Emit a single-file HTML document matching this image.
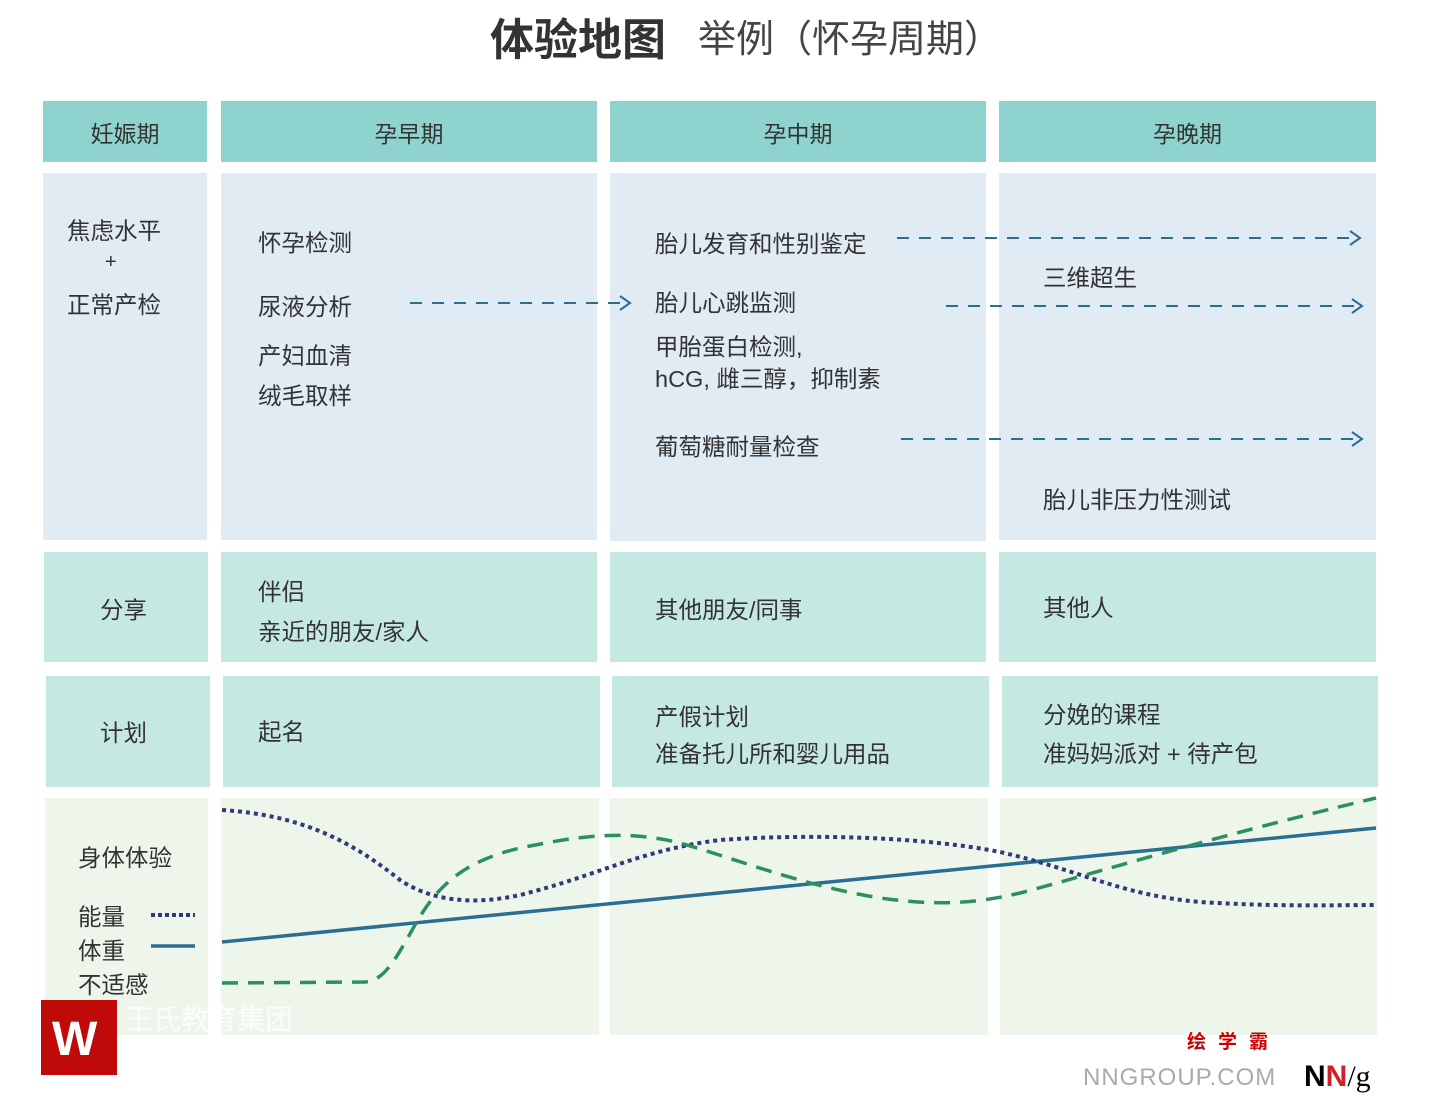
<!DOCTYPE html>
<html><head><meta charset="utf-8"><style>
body{margin:0;width:1437px;height:1104px;background:#fff;position:relative;overflow:hidden;font-family:"Liberation Sans","Noto Sans CJK SC",sans-serif;color:#333}
.b{position:absolute}
.h{background:#8fd3cf;display:flex;align-items:center;justify-content:center;font-size:23px;color:#333}
.r1{background:#e0ebf4}
.r2{background:#c6e8e3}
.r4{background:#eef6ec}
.t{position:absolute;font-size:23.5px;color:#333;white-space:nowrap}
</style></head><body>
<div class="t" style="left:490px;top:4px;font-size:44px;font-weight:bold;color:#333">体验地图</div>
<div class="t" style="left:698px;top:8px;font-size:38px;color:#444">举例（怀孕周期）</div>

<div class="b h" style="left:43px;top:101px;width:164px;height:61px">妊娠期</div>
<div class="b h" style="left:221px;top:101px;width:376px;height:61px">孕早期</div>
<div class="b h" style="left:610px;top:101px;width:376px;height:61px">孕中期</div>
<div class="b h" style="left:999px;top:101px;width:377px;height:61px">孕晚期</div>

<div class="b r1" style="left:43px;top:173px;width:164px;height:367px"></div>
<div class="b r1" style="left:221px;top:173px;width:376px;height:367px"></div>
<div class="b r1" style="left:610px;top:173px;width:376px;height:368px"></div>
<div class="b r1" style="left:999px;top:173px;width:377px;height:367px"></div>

<div class="b r2" style="left:44px;top:552px;width:164px;height:110px"></div>
<div class="b r2" style="left:221px;top:552px;width:376px;height:110px"></div>
<div class="b r2" style="left:610px;top:552px;width:376px;height:110px"></div>
<div class="b r2" style="left:999px;top:552px;width:377px;height:110px"></div>

<div class="b r2" style="left:46px;top:676px;width:164px;height:111px"></div>
<div class="b r2" style="left:223px;top:676px;width:377px;height:111px"></div>
<div class="b r2" style="left:612px;top:676px;width:377px;height:111px"></div>
<div class="b r2" style="left:1002px;top:676px;width:376px;height:111px"></div>

<div class="b r4" style="left:45px;top:798px;width:163px;height:237px"></div>
<div class="b r4" style="left:221px;top:798px;width:378px;height:237px"></div>
<div class="b r4" style="left:610px;top:798px;width:378px;height:237px"></div>
<div class="b r4" style="left:1000px;top:798px;width:377px;height:237px"></div>

<div class="t" style="left:67px;top:212px">焦虑水平</div>
<div class="t" style="left:105px;top:251px;font-size:20px">+</div>
<div class="t" style="left:67px;top:286px">正常产检</div>
<div class="t" style="left:258px;top:224px">怀孕检测</div>
<div class="t" style="left:258px;top:288px">尿液分析</div>
<div class="t" style="left:258px;top:337px">产妇血清</div>
<div class="t" style="left:258px;top:377px">绒毛取样</div>
<div class="t" style="left:655px;top:225px">胎儿发育和性别鉴定</div>
<div class="t" style="left:655px;top:284px">胎儿心跳监测</div>
<div class="t" style="left:655px;top:328px">甲胎蛋白检测,</div>
<div class="t" style="left:655px;top:360px">hCG, 雌三醇，抑制素</div>
<div class="t" style="left:655px;top:428px">葡萄糖耐量检查</div>
<div class="t" style="left:1043px;top:259px">三维超生</div>
<div class="t" style="left:1043px;top:481px">胎儿非压力性测试</div>

<div class="t" style="left:100px;top:591px">分享</div>
<div class="t" style="left:258px;top:573px">伴侣</div>
<div class="t" style="left:258px;top:613px">亲近的朋友/家人</div>
<div class="t" style="left:655px;top:591px">其他朋友/同事</div>
<div class="t" style="left:1043px;top:589px">其他人</div>

<div class="t" style="left:100px;top:714px">计划</div>
<div class="t" style="left:258px;top:713px">起名</div>
<div class="t" style="left:655px;top:698px">产假计划</div>
<div class="t" style="left:655px;top:735px">准备托儿所和婴儿用品</div>
<div class="t" style="left:1043px;top:696px">分娩的课程</div>
<div class="t" style="left:1043px;top:735px">准妈妈派对 + 待产包</div>

<div class="t" style="left:78px;top:839px">身体体验</div>
<div class="t" style="left:78px;top:898px">能量</div>
<div class="t" style="left:78px;top:932px">体重</div>
<div class="t" style="left:78px;top:966px">不适感</div>

<svg class="b" style="left:0;top:0" width="1437" height="1104">
<g stroke="#2a6e93" stroke-width="2" stroke-dasharray="12,10" fill="none">
<line x1="410" y1="303" x2="628" y2="303"/><polyline stroke-dasharray="none" points="620,296 630,303 620,310"/>
<line x1="897" y1="238" x2="1358" y2="238"/><polyline stroke-dasharray="none" points="1350,231 1360,238 1350,245"/>
<line x1="946" y1="306" x2="1360" y2="306"/><polyline stroke-dasharray="none" points="1352,299 1362,306 1352,313"/>
<line x1="901" y1="439" x2="1360" y2="439"/><polyline stroke-dasharray="none" points="1352,432 1362,439 1352,446"/>
</g>
<line x1="151" y1="915" x2="195" y2="915" stroke="#2e3a7a" stroke-width="4" stroke-dasharray="4,3"/>
<line x1="151" y1="946" x2="195" y2="946" stroke="#2a6e93" stroke-width="3.5"/>
<line x1="222" y1="942" x2="1376" y2="828" stroke="#2a6e93" stroke-width="3.5"/>
<path d="M222,810 C300,815 350,840 400,880 C430,900 470,906 520,895 C600,875 640,850 720,840 C820,833 930,838 1000,852 C1080,870 1120,895 1200,902 C1280,907 1340,905 1376,905" fill="none" stroke="#2e3a7a" stroke-width="4" stroke-dasharray="4,4"/>
<path d="M222,983 L365,982 C385,980 395,960 415,925 C440,880 470,860 520,848 C570,838 620,828 680,843 C740,860 800,885 880,898 C930,905 970,905 1020,893 C1100,872 1200,840 1376,798" fill="none" stroke="#2a9060" stroke-width="3.5" stroke-dasharray="16,10"/>
</svg>

<div class="b" style="left:41px;top:1000px;width:76px;height:75px;background:#c00a0a"></div>
<div class="t" style="left:52px;top:1012px;font-size:48px;font-weight:bold;color:#fff">W</div>
<div class="t" style="left:125px;top:998px;font-size:28px;color:rgba(255,255,255,0.8)">王氏教育集团</div>
<div class="t" style="left:1187px;top:1027px;font-size:19px;font-weight:bold;color:#c00;letter-spacing:12px">绘学霸</div>
<div class="t" style="left:1083px;top:1064px;font-size:24px;color:#aaa;letter-spacing:1px">NNGROUP.COM</div>
<div class="t" style="left:1304px;top:1060px;font-size:30px;font-weight:bold;color:#000">N<span style="color:#d0202a">N</span><span style="font-weight:normal;font-family:'Liberation Serif',serif">/g</span></div>
</body></html>
